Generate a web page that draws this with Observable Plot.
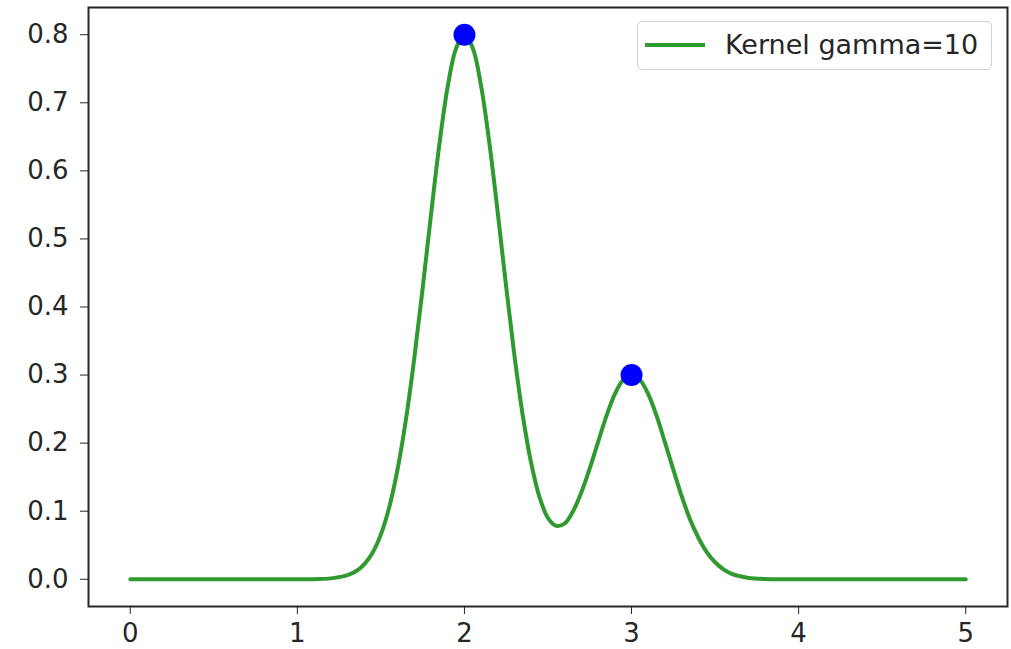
<!DOCTYPE html>
<html>
<head>
<meta charset="utf-8">
<script src="https://cdn.jsdelivr.net/npm/d3@7"></script>
<script src="https://cdn.jsdelivr.net/npm/@observablehq/plot@0.6"></script>
<style>
  body { margin: 0; background: #fff; font-family: "DejaVu Sans", sans-serif; }
  #wrap { position: relative; width: 1011px; height: 649px; }
  #legend { position: absolute; left: 637px; top: 21px; width: 355px; height: 49px;
    border: 1px solid #d0d0d0; border-radius: 5px; background: #fff; box-sizing: border-box; }
  #legend .sw { position: absolute; left: 7px; top: 21px; width: 60px; height: 0; border-top: 4px solid #2f9a2f; }
  #legend .lb { position: absolute; left: 87px; top: 9px; font-size: 27px; line-height: 28px; color: #262626; white-space: nowrap; }
</style>
</head>
<body>
<div id="wrap"></div>
<script>
// Curve values
const xs = [0.0,0.2,0.4,0.6,0.8,1.0,1.1,1.2,1.3,1.35,1.4,1.45,1.5,1.55,1.6,1.65,1.7,1.75,1.8,1.85,1.9,1.95,2.0,2.05,2.1,2.15,2.2,2.25,2.3,2.35,2.4,2.45,2.5,2.55,2.6,2.65,2.7,2.75,2.8,2.85,2.9,2.95,3.0,3.05,3.1,3.15,3.2,3.25,3.3,3.35,3.4,3.45,3.5,3.55,3.6,3.65,3.7,3.8,3.9,4.0,4.2,4.4,4.6,4.8,5.0];
const ys = [0,0,0,0,0,0,0.0002,0.0013,0.006,0.0117,0.022,0.039,0.066,0.106,0.162,0.235,0.325,0.428,0.536,0.639,0.724,0.780,0.800,0.780,0.724,0.639,0.537,0.429,0.327,0.239,0.170,0.120,0.090,0.0785,0.082,0.100,0.128,0.163,0.202,0.240,0.272,0.293,0.300,0.293,0.272,0.240,0.201,0.161,0.122,0.088,0.061,0.040,0.025,0.0146,0.008,0.0044,0.002,0.0005,0.0001,0,0,0,0,0,0];
// Highlighted points
const px = [2, 3];
const py = [0.8, 0.3];
const xTicks = [0, 1, 2, 3, 4, 5];
const yTicks = [0.0, 0.1, 0.2, 0.3, 0.4, 0.5, 0.6, 0.7, 0.8];
const seriesLabel = "Kernel gamma=10";

const curve = xs.map((x, i) => ({x, y: ys[i]}));
const pts = px.map((x, i) => ({x, y: py[i]}));

const chart = Plot.plot({
  width: 1011,
  height: 649,
  marginLeft: 88,
  marginRight: 4,
  marginTop: 7,
  marginBottom: 43,
  style: {fontFamily: "DejaVu Sans, sans-serif", fontSize: "26px", color: "#262626", background: "#fff"},
  x: {domain: [-0.25, 5.25], ticks: xTicks, tickFormat: d3.format("d"), tickSize: 8, tickPadding: 9, label: null},
  y: {domain: [-0.04, 0.84], ticks: yTicks, tickFormat: d3.format(".1f"), tickSize: 8, tickPadding: 12, label: null},
  marks: [
    Plot.line(curve, {x: "x", y: "y", stroke: "#2f9a2f", strokeWidth: 4, curve: "catmull-rom"}),
    Plot.dot(pts, {x: "x", y: "y", r: 11, fill: "#0000ff", stroke: "none"}),
    Plot.frame({stroke: "#262626", strokeWidth: 2})
  ]
});
const wrap = document.getElementById("wrap");
wrap.appendChild(chart);
const leg = document.createElement("div");
leg.id = "legend";
leg.innerHTML = `<div class="sw"></div><div class="lb"></div>`;
leg.querySelector(".lb").textContent = seriesLabel;
wrap.appendChild(leg);
</script>
</body>
</html>
